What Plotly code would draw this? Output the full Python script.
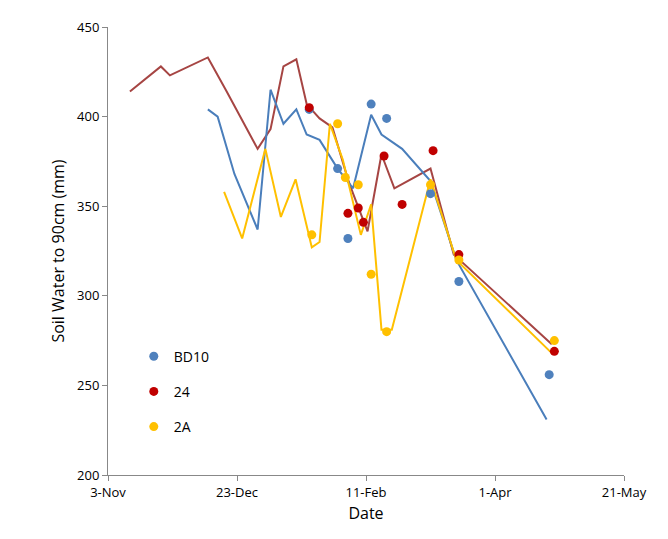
import plotly.graph_objects as go
import pandas as pd

base = pd.Timestamp("2011-11-03")

def dates(days):
    return [base + pd.Timedelta(days=d) for d in days]

# lines
red_line_days = [8.5, 20.5, 24, 38.7, 46, 58, 63, 68, 73, 77, 82, 87, 93, 95, 100.6, 106, 111, 125, 134, 172]
red_line_vals = [414, 428, 423, 433, 414, 382, 393, 428, 432, 407, 399, 394, 365, 357, 336, 379, 360, 371, 323, 273]
blue_line_days = [38.7, 42.5, 49, 58, 63, 68, 73, 77, 82, 89, 95, 102, 106, 114, 125, 135, 170]
blue_line_vals = [404, 400, 368, 337, 415, 396, 404, 390, 387, 371, 360, 401, 390, 382, 364, 320, 231]
yel_line_days = [45, 52, 61, 67, 72.7, 79, 82, 86, 91, 98, 102, 106, 110, 125, 135, 172]
yel_line_vals = [358, 332, 382, 344, 365, 327, 330, 396, 376, 334, 351, 281, 281, 365, 320, 268]

# measured points
blue_pt_days = [78, 89, 93, 102, 108, 125, 136, 171]
blue_pt_vals = [404, 371, 332, 407, 399, 357, 308, 256]
red_pt_days = [78, 93, 97, 99, 107, 114, 126, 136, 173]
red_pt_vals = [405, 346, 349, 341, 378, 351, 381, 323, 269]
yel_pt_days = [79, 89, 92, 97, 102, 108, 125, 136, 173]
yel_pt_vals = [334, 396, 366, 362, 312, 280, 362, 320, 275]

tick_days = [0, 50, 100, 150, 200]
tick_labels = ["3-Nov", "23-Dec", "11-Feb", "1-Apr", "21-May"]

fig = go.Figure()
fig.add_trace(go.Scatter(x=dates(red_line_days), y=red_line_vals, mode="lines",
                         line=dict(color="#A64543", width=2), showlegend=False))
fig.add_trace(go.Scatter(x=dates(blue_line_days), y=blue_line_vals, mode="lines",
                         line=dict(color="#4A7EBB", width=2), showlegend=False))
fig.add_trace(go.Scatter(x=dates(yel_line_days), y=yel_line_vals, mode="lines",
                         line=dict(color="#FFC000", width=2), showlegend=False))
fig.add_trace(go.Scatter(x=dates(blue_pt_days), y=blue_pt_vals, mode="markers", name="BD10",
                         legendgroup="a", marker=dict(color="#4F81BD", size=9)))
fig.add_trace(go.Scatter(x=dates(red_pt_days), y=red_pt_vals, mode="markers", name="24",
                         legendgroup="b", marker=dict(color="#C00000", size=9)))
fig.add_trace(go.Scatter(x=dates(yel_pt_days), y=yel_pt_vals, mode="markers", name="2A",
                         legendgroup="c", marker=dict(color="#FFC000", size=9)))

fig.update_layout(
    width=668, height=539,
    margin=dict(l=100, r=52, t=19, b=72, autoexpand=False),
    plot_bgcolor="white", paper_bgcolor="white",
    font=dict(family="Open Sans", size=13, color="black"),
    legend=dict(x=0.05, y=0.3, yanchor="top", bgcolor="rgba(0,0,0,0)",
                font=dict(size=14), tracegroupgap=14),
)
fig.update_xaxes(range=[base, base + pd.Timedelta(days=200)],
                 tickvals=dates(tick_days), ticktext=tick_labels,
                 showline=True, linecolor="#888", ticks="outside", tickcolor="#888",
                 showgrid=False, title=dict(text="Date", standoff=8))
fig.update_yaxes(range=[200, 450], dtick=50, showline=True, linecolor="#888",
                 ticks="outside", tickcolor="#888", showgrid=False,
                 title=dict(text="Soil Water to 90cm (mm)", standoff=8))
fig.write_html("out.html")
